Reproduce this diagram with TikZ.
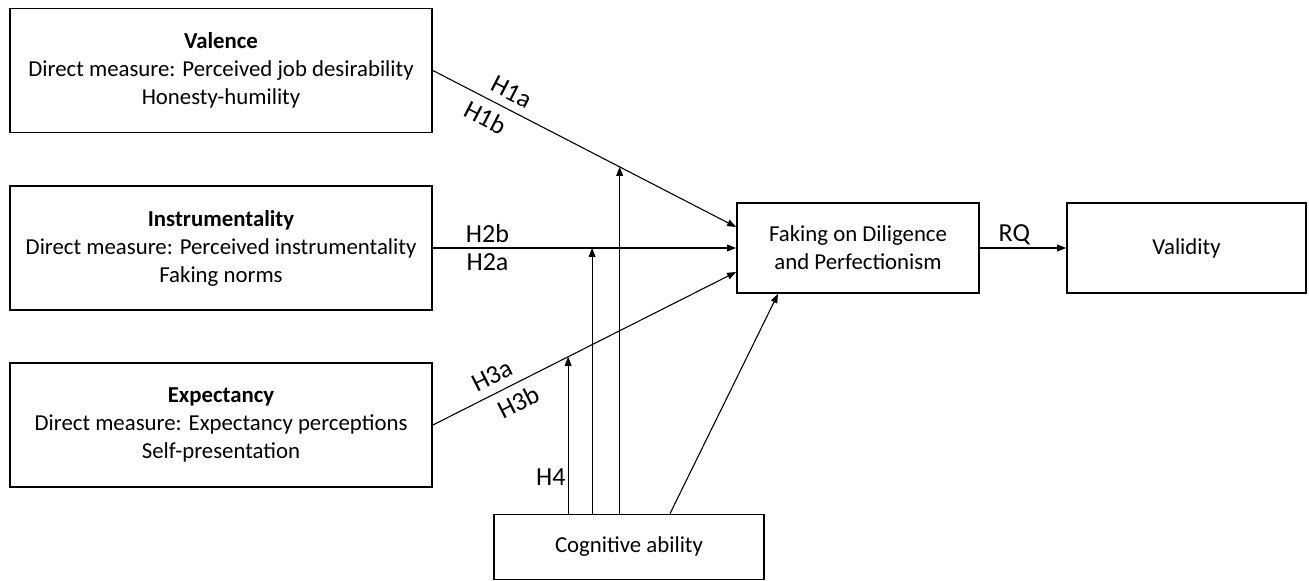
\documentclass[tikz,border=0pt]{standalone}
\usepackage{fontspec}
\setmainfont{Carlito}
\usetikzlibrary{arrows.meta,calc}

\begin{document}
\begin{tikzpicture}[
    x=0.5pt, y=-0.5pt,
    box/.style={draw, line width=0.9pt, minimum width=211pt, minimum height=62pt, align=center, inner sep=0pt,
                font=\fontsize{11.4pt}{14pt}\selectfont},
    smallbox/.style={draw, line width=0.9pt, minimum width=121pt, minimum height=45pt, align=center, inner sep=0pt,
                font=\fontsize{11.4pt}{14pt}\selectfont},
    arr/.style={-{Triangle[length=4.5pt,width=3.4pt]}, line width=0.55pt},
    lab/.style={font=\fontsize{13pt}{15pt}\selectfont, inner sep=2.5pt},
    slab/.style={lab, sloped, inner sep=4pt},
]
\useasboundingbox (0,0) rectangle (1309,581);

% --- Column 1: Predictors ---
\node[box] (val) at (221, 70.5) {\textbf{Valence}\\Direct measure: Perceived job desirability\\Honesty-humility};
\node[box] (inst) at (221, 248) {\textbf{Instrumentality}\\Direct measure: Perceived instrumentality\\Faking norms};
\node[box] (exp) at (221, 425) {\textbf{Expectancy}\\Direct measure: Expectancy perceptions\\Self-presentation};

% --- Column 2: Faking and Moderator ---
\node[smallbox] (fake) at (858, 248) {Faking on Diligence\\and Perfectionism};
\node[smallbox, minimum width=135pt, minimum height=32.5pt] (cog) at (629, 547) {Cognitive ability};

% --- Column 3: Outcome ---
\node[smallbox, minimum width=119.5pt] (valid) at (1186.5, 248) {Validity};

% === Arrows: Predictors to Faking ===
\draw[arr] (val.east) -- node[slab, pos=0.235, above] {H1a} node[slab, pos=0.2, below] {H1b}
    coordinate[pos=0.616] (m1) ([yshift=10.5pt]fake.west);
\draw[arr] (inst.east) -- node[lab, pos=0.18, above] {H2b} node[lab, pos=0.18, below] {H2a}
    coordinate[pos=0.525] (m2) (fake.west);
\draw[arr] (exp.east) -- node[slab, pos=0.22, above] {H3a} node[slab, pos=0.255, below] {H3b}
    coordinate[pos=0.446] (m3) ([yshift=-12pt]fake.west);

% === Arrows: Cognitive ability (moderation) ===
\draw[arr] (cog.north -| m3) -- node[lab, pos=0.23, left, inner sep=1pt] {H4} (m3);
\draw[arr] (cog.north -| m2) -- (m2);
\draw[arr] (cog.north -| m1) -- (m1);
\draw[arr] ([xshift=20.5pt]cog.north) -- ([xshift=-40pt]fake.south);

% === Arrow: Faking to Validity ===
\draw[arr] (fake) -- node[lab, pos=0.4, above, inner sep=1.5pt] {RQ} (valid);

\end{tikzpicture}
\end{document}
